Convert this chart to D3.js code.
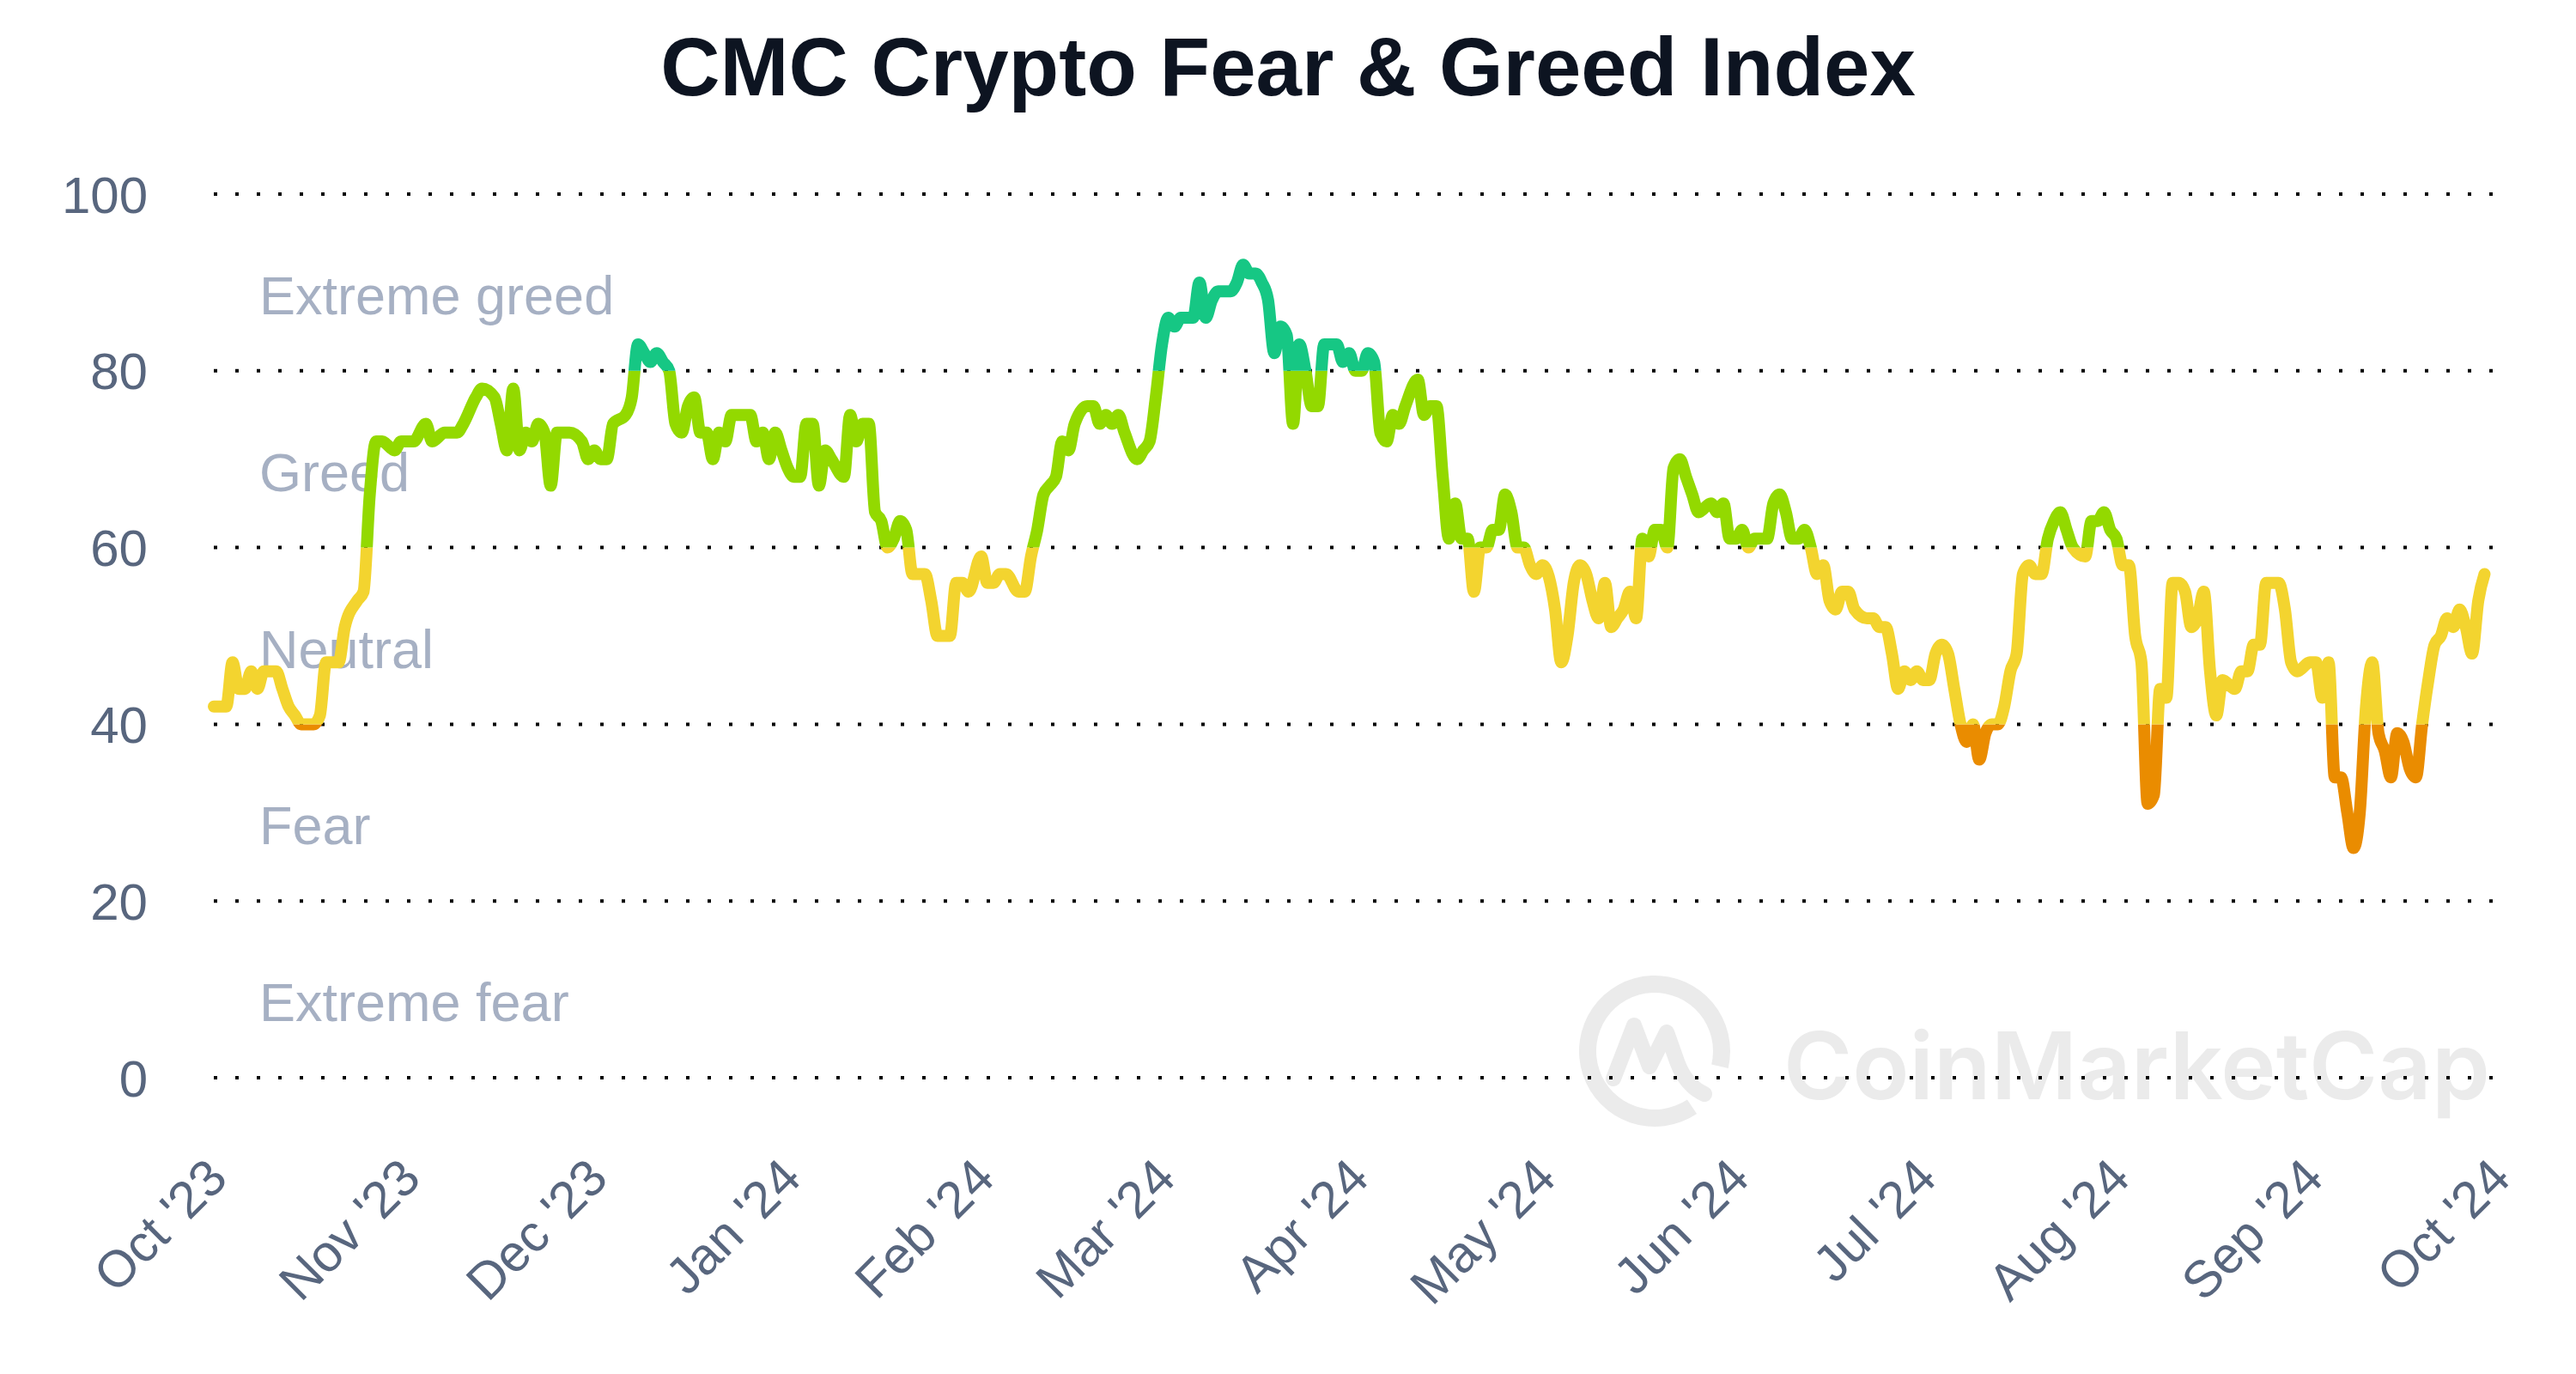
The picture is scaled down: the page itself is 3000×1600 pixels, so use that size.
<!DOCTYPE html>
<html><head><meta charset="utf-8">
<script src="https://cdn.jsdelivr.net/npm/d3@7"></script>
<style>html,body{margin:0;padding:0;background:#fff;} svg{display:block;}</style>
</head><body>
<svg id="chart" width="3000" height="1600"></svg>
<script>
// ---- data ----
const startDate = "2023-10-01";
const dayOffsets = [0,2,3,4,5,6,7,8,10,11,12,13,14,15,16,17,18,19,20,21,23,24,25,26,27,29,30,32,34,35,37,39,40,42,43,45,46,47,48,49,50,51,52,53,54,55,56,57,59,60,61,62,63,64,66,67,68,69,70,71,72,73,74,75,76,77,78,79,80,81,82,83,84,85,86,87,88,89,90,91,92,93,94,95,96,97,98,99,101,102,103,104,105,106,107,108,109,110,111,112,113,114,115,116,117,118,119,120,121,123,124,125,126,127,129,130,131,132,133,134,135,136,137,138,140,141,142,143,144,145,146,148,149,150,151,152,153,154,155,156,157,158,159,160,161,162,163,164,165,166,167,168,169,170,171,172,173,174,175,176,177,178,179,180,181,182,183,184,185,186,187,188,189,190,191,193,194,195,196,197,198,199,200,201,202,203,204,205,206,207,208,209,210,211,212,213,215,216,217,218,219,220,221,222,223,224,225,226,227,228,229,230,231,232,233,234,235,236,237,238,240,241,242,243,244,245,246,247,249,250,251,252,253,254,255,256,257,258,259,260,261,262,263,265,266,267,268,269,270,271,272,273,274,275,276,277,278,279,280,281,282,283,284,285,286,287,288,289,290,291,292,293,294,295,296,297,298,300,301,302,303,304,305,306,307,308,309,310,311,312,313,314,315,316,317,318,319,320,321,322,324,325,326,327,328,329,330,331,332,333,334,336,337,338,339,340,341,342,343,344,345,346,347,348,349,350,351,352,353,354,355,356,357,358,359,360,361,362,363,364];
const indexValues = [42,42,47,44,44,46,44,46,46,44,42,41,40,40,40,41,47,47,47,51,54,55,66,72,72,71,72,72,74,72,73,73,74,77,78,77,74,71,78,71,73,72,74,73,67,73,73,73,72,70,71,70,70,74,75,77,83,82,81,82,81,80,74,73,76,77,73,73,70,73,72,75,75,75,75,72,73,70,73,71,69,68,68,74,74,67,71,70,68,75,72,74,74,64,63,60,61,63,62,57,57,57,54,50,50,50,56,56,55,59,56,56,57,57,55,55,59,62,66,67,68,72,71,74,76,76,74,75,74,75,73,70,71,72,77,83,86,85,86,86,86,90,86,88,89,89,89,90,92,91,91,90,88,82,85,84,74,83,80,76,76,83,83,83,81,82,80,80,82,81,73,72,75,74,76,79,75,76,76,68,61,65,61,61,55,60,60,62,62,66,64,60,60,58,57,58,53,47,50,56,58,57,54,52,56,51,52,53,55,52,61,59,62,62,60,69,70,68,66,64,65,64,65,61,61,62,60,61,61,65,66,64,61,61,62,60,57,58,54,53,55,55,53,52,52,51,51,48,44,46,45,46,45,45,48,49,48,44,40,38,40,36,39,40,40,42,46,48,57,58,57,57,61,63,64,62,60,59,63,63,64,62,61,58,58,50,47,31,32,44,43,56,56,55,51,52,55,46,41,45,44,46,46,49,49,56,56,56,53,47,46,47,47,43,47,34,34,30,26,30,42,47,39,37,34,39,38,35,34,40,45,49,50,52,51,53,51,48,54,57];
const yTicks = [0, 20, 40, 60, 80, 100];
const monthTicks = ["2023-10-01","2023-11-01","2023-12-01","2024-01-01","2024-02-01","2024-03-01","2024-04-01","2024-05-01","2024-06-01","2024-07-01","2024-08-01","2024-09-01","2024-10-01"];
const monthLabels = ["Oct '23","Nov '23","Dec '23","Jan '24","Feb '24","Mar '24","Apr '24","May '24","Jun '24","Jul '24","Aug '24","Sep '24","Oct '24"];
const bandNames = ["Extreme fear","Fear","Neutral","Greed","Extreme greed"];
const bandLows = [0, 20, 40, 60, 80];
const bandHighs = [20, 40, 60, 80, 100];
const bandColors = ["#EA3943","#EA8C00","#F3D42F","#93D900","#16C784"];
const titleText = "CMC Crypto Fear & Greed Index";
const watermarkText = "CoinMarketCap";

// ---- setup ----
const svg = d3.select("#chart");
const parse = d3.timeParse("%Y-%m-%d");
const t0 = parse(startDate);
const data = dayOffsets.map((d, i) => ({ date: d3.timeDay.offset(t0, d), value: indexValues[i] }));

const x = d3.scaleTime().domain([parse(monthTicks[0]), parse(monthTicks[monthTicks.length - 1])]).range([249, 2908]);
const y = d3.scaleLinear().domain([0, 100]).range([1255, 226]);

svg.append("rect").attr("width", 3000).attr("height", 1600).attr("fill", "#fff");

// ---- watermark ----
const wm = svg.append("g").attr("fill", "none").attr("stroke", "#EBEBEB");
const cx = 1927, cy = 1224, r = 78;
const arc = d3.arc().innerRadius(r - 10).outerRadius(r + 10).startAngle(2.55).endAngle(2.55 + 2 * Math.PI - 0.75);
wm.append("path").attr("d", arc()).attr("transform", `translate(${cx},${cy})`).attr("fill", "#EBEBEB").attr("stroke", "none");
wm.append("path")
  .attr("d", `M${cx-48},${cy+32} L${cx-24},${cy-30} L${cx-6},${cy+18} L${cx+14},${cy-22} L${cx+26},${cy+12} Q${cx+36},${cy+40} ${cx+58},${cy+50}`)
  .attr("stroke-width", 18).attr("stroke-linejoin", "round").attr("stroke-linecap", "round");
const wmText = svg.append("text").attr("x", 2077).attr("y", 1280)
  .attr("font-family", "Inter, 'Noto Sans', sans-serif").attr("font-weight", 600)
  .attr("font-size", 120).attr("fill", "#EBEBEB")
  .text(watermarkText);
const wmW = wmText.node().getComputedTextLength();
if (wmW > 0) wmText.attr("font-size", 120 * 823 / wmW);

// ---- gridlines ----
svg.append("g").selectAll("line").data(yTicks).join("line")
  .attr("x1", 249).attr("x2", 2912)
  .attr("y1", d => y(d)).attr("y2", d => y(d))
  .attr("stroke", "#000").attr("stroke-width", 4)
  .attr("stroke-dasharray", "4 21");

// ---- y axis labels ----
const yAxis = d3.axisLeft(y).tickValues(yTicks).tickSize(0).tickPadding(0);
const gy = svg.append("g").attr("transform", "translate(172,0)").call(yAxis);
gy.select(".domain").remove();
gy.selectAll("text").attr("font-family", "'Liberation Sans', Arial, sans-serif")
  .attr("font-size", 60).attr("fill", "#58667E").attr("dy", "0.35em");

// ---- band labels ----
svg.append("g").selectAll("text").data(bandNames).join("text")
  .attr("x", 302)
  .attr("y", (d, i) => y((bandLows[i] + bandHighs[i]) / 2) + 15)
  .attr("dy", "0.35em")
  .attr("font-family", "'Liberation Sans', Arial, sans-serif")
  .attr("font-size", 63).attr("fill", "#A6B0C3")
  .text(d => d);

// ---- x axis labels ----
const xAxis = d3.axisBottom(x).tickValues(monthTicks.map(parse))
  .tickFormat((d, i) => monthLabels[i]).tickSize(0).tickPadding(0);
const gx = svg.append("g").attr("transform", "translate(0,0)").call(xAxis);
gx.select(".domain").remove();
gx.selectAll(".tick text")
  .attr("font-family", "'Liberation Sans', Arial, sans-serif")
  .attr("font-size", 60).attr("fill", "#58667E")
  .attr("text-anchor", "end").attr("dy", null).attr("y", null)
  .attr("transform", "translate(18,1375) rotate(-45)");

// ---- line, coloured by band ----
const defs = svg.append("defs");
bandLows.forEach((lo, i) => {
  const top = i === bandLows.length - 1 ? 0 : y(bandHighs[i]);
  const bottom = i === 0 ? 1600 : y(lo);
  defs.append("clipPath").attr("id", "band" + i)
    .append("rect").attr("x", 0).attr("width", 3000).attr("y", top).attr("height", bottom - top);
});
const line = d3.line().x(d => x(d.date)).y(d => y(d.value)).curve(d3.curveMonotoneX);
const lg = svg.append("g");
bandLows.forEach((lo, i) => {
  lg.append("path").datum(data)
    .attr("clip-path", `url(#band${i})`)
    .attr("d", line)
    .attr("fill", "none").attr("stroke", bandColors[i])
    .attr("stroke-width", 14).attr("stroke-linejoin", "round").attr("stroke-linecap", "round");
});

// ---- title ----
svg.append("text").attr("x", 1500).attr("y", 111).attr("text-anchor", "middle")
  .attr("font-family", "'Liberation Sans', Arial, sans-serif").attr("font-weight", "bold")
  .attr("font-size", 96).attr("fill", "#0D1421").text(titleText);
</script>
</body></html>
